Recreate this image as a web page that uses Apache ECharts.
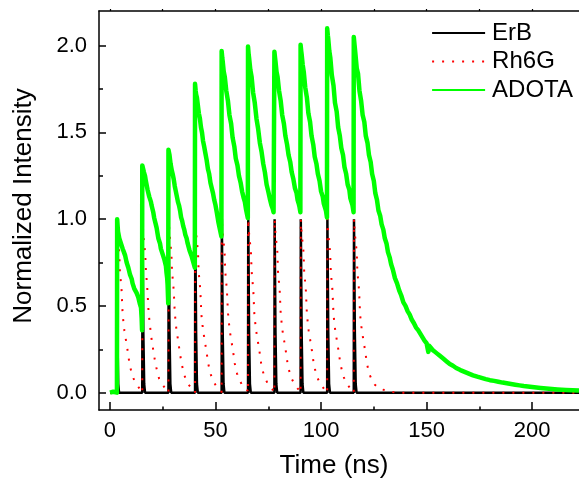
<!DOCTYPE html>
<html>
<head>
<meta charset="utf-8">
<script src="https://cdn.jsdelivr.net/npm/echarts@6/dist/echarts.min.js"></script>
<style>
html,body{margin:0;padding:0;background:#fff;}
#chart{width:579px;height:480px;}
</style>
</head>
<body>
<div id="chart"></div>
<script>
// ---- data ----
const seriesNames = ['ErB', 'Rh6G', 'ADOTA'];
const xMajorTicks = [0, 50, 100, 150, 200];
const xMinorTicks = [25, 75, 125, 175];
const xTopTicks = [0, 25, 50, 75, 100, 125, 150, 175, 200];
const yMajorTicks = [0, 0.5, 1.0, 1.5, 2.0];
const yMinorTicks = [0.25, 0.75, 1.25, 1.75];
const xTitle = 'Time (ns)';
const yTitle = 'Normalized Intensity';

const erb = [
  [0,0],
  [3.0,0],[3.1,1.0],[3.5,0.35],[3.9,0.05],[4.3,0],
  [15.3,0],[15.4,1.0],[15.8,0.35],[16.2,0.05],[16.6,0],
  [27.7,0],[27.8,1.0],[28.2,0.35],[28.6,0.05],[29.0,0],
  [40.3,0],[40.4,1.0],[40.8,0.35],[41.2,0.05],[41.6,0],
  [52.9,0],[53.0,1.0],[53.4,0.35],[53.8,0.05],[54.2,0],
  [65.4,0],[65.5,1.0],[65.9,0.35],[66.3,0.05],[66.7,0],
  [77.9,0],[78.0,1.0],[78.4,0.35],[78.8,0.05],[79.2,0],
  [90.3,0],[90.4,1.0],[90.8,0.35],[91.2,0.05],[91.6,0],
  [102.9,0],[103.0,1.0],[103.4,0.35],[103.8,0.05],[104.2,0],
  [115.5,0],[115.6,1.0],[116.0,0.35],[116.4,0.05],[116.8,0],
  [222.2,0]
];

const rh6g = [
  [0,0],
  [3.0,0],[3.1,1.0],[3.5,0.92],[4.4,0.81],[4.7,0.70],[5.5,0.59],[6.0,0.45],[6.8,0.36],[7.6,0.30],[8.4,0.24],[9.2,0.17],[10.3,0.11],[11.0,0.085],[12.6,0.046],[14.2,0.021],[15.2,0.012],
  [15.3,0],[15.4,1.0],[15.8,0.91],[16.7,0.80],[17.0,0.71],[17.8,0.58],[18.3,0.46],[19.1,0.37],[19.9,0.29],[20.7,0.23],[21.5,0.17],[22.6,0.11],[23.3,0.08],[24.9,0.045],[26.5,0.02],[27.5,0.012],
  [27.7,0],[27.8,1.0],[28.2,0.92],[29.1,0.80],[29.4,0.70],[30.2,0.59],[30.7,0.46],[31.5,0.36],[32.3,0.30],[33.1,0.23],[33.9,0.17],[35.0,0.11],[35.7,0.085],[37.3,0.045],[38.9,0.022],[40.1,0.012],
  [40.3,0],[40.4,1.0],[40.8,0.92],[41.7,0.81],[42.0,0.70],[42.8,0.59],[43.3,0.45],[44.1,0.36],[44.9,0.30],[45.7,0.24],[46.5,0.17],[47.6,0.11],[48.3,0.085],[49.9,0.046],[51.5,0.021],[52.7,0.012],
  [52.9,0],[53.0,1.0],[53.4,0.92],[54.3,0.81],[54.6,0.70],[55.4,0.59],[55.9,0.46],[56.7,0.36],[57.5,0.30],[58.3,0.24],[59.1,0.17],[60.2,0.11],[60.9,0.085],[62.5,0.046],[64.1,0.021],[65.2,0.012],
  [65.4,0],[65.5,1.0],[65.9,0.92],[66.8,0.81],[67.1,0.70],[67.9,0.59],[68.4,0.45],[69.2,0.36],[70.0,0.30],[70.8,0.24],[71.6,0.17],[72.7,0.11],[73.4,0.085],[75.0,0.046],[76.6,0.021],[77.7,0.012],
  [77.9,0],[78.0,1.0],[78.4,0.92],[79.3,0.81],[79.6,0.70],[80.4,0.59],[80.9,0.45],[81.7,0.36],[82.5,0.30],[83.3,0.24],[84.1,0.17],[85.2,0.11],[85.9,0.085],[87.5,0.046],[89.1,0.021],[90.1,0.012],
  [90.3,0],[90.4,1.0],[90.8,0.92],[91.7,0.81],[92.0,0.70],[92.8,0.59],[93.3,0.45],[94.1,0.36],[94.9,0.30],[95.7,0.24],[96.5,0.17],[97.6,0.11],[98.3,0.085],[99.9,0.046],[101.5,0.021],[102.7,0.012],
  [102.9,0],[103.0,1.0],[103.4,0.92],[104.3,0.81],[104.6,0.70],[105.4,0.59],[105.9,0.45],[106.7,0.36],[107.5,0.30],[108.3,0.24],[109.1,0.17],[110.2,0.11],[110.9,0.085],[112.5,0.046],[114.1,0.021],[115.3,0.012],
  [115.5,0],[115.6,1.0],[116.0,0.92],[116.9,0.81],[117.2,0.70],[118.0,0.59],[118.5,0.45],[119.3,0.36],[120.1,0.30],[120.9,0.24],[121.7,0.17],[122.8,0.11],[124.0,0.075],[125.5,0.046],[127.9,0.021],[131.1,0.012],[134.0,0.003],[136.0,0],
  [222.2,0]
];

const adota = [
  [0,0.0],[1.5,0.005],[3.3,0.0],
  [3.4,1.0],[3.8,0.93],[4.4,0.89],[4.8,0.90],[5.2,0.86],[5.6,0.87],[6.0,0.83],[6.6,0.81],[7.2,0.79],[7.6,0.78],[7.9,0.75],[8.3,0.74],[8.7,0.72],[9.1,0.71],[9.5,0.68],[10.3,0.655],[10.7,0.63],[11.1,0.62],[11.5,0.60],[11.9,0.59],[12.6,0.575],[13.0,0.57],[13.4,0.55],[13.8,0.54],[14.2,0.51],[14.7,0.49],[15.0,0.43],[15.2,0.36],
  [15.3,1.31],[15.7,1.29],[16.1,1.27],[16.6,1.25],[17.0,1.22],[17.4,1.21],[17.8,1.17],[18.2,1.16],[18.6,1.13],[19.0,1.12],[19.4,1.10],[19.7,1.08],[20.1,1.06],[20.5,1.04],[20.9,1.01],[21.3,0.99],[21.7,0.97],[22.1,0.95],[22.5,0.92],[22.9,0.89],[23.3,0.88],[23.7,0.86],[24.1,0.83],[24.5,0.82],[24.9,0.80],[25.3,0.79],[25.7,0.77],[26.1,0.76],[26.5,0.73],[26.8,0.69],[27.1,0.66],[27.3,0.62],[27.6,0.515],
  [27.7,1.40],[28.2,1.37],[28.7,1.32],[29.3,1.28],[29.7,1.26],[30.2,1.23],[30.7,1.19],[31.2,1.16],[31.7,1.13],[32.2,1.10],[32.7,1.08],[33.2,1.05],[33.7,1.01],[34.2,0.99],[34.7,0.96],[35.2,0.94],[35.7,0.91],[36.3,0.89],[36.8,0.86],[37.3,0.85],[37.7,0.82],[38.2,0.81],[38.6,0.79],[39.0,0.78],[39.3,0.76],[39.6,0.75],[39.9,0.77],[40.2,0.72],
  [40.3,1.78],[40.6,1.74],[40.8,1.72],[41.2,1.70],[41.6,1.66],[42.1,1.61],[42.6,1.58],[43.1,1.53],[43.6,1.50],[44.1,1.45],[44.6,1.42],[45.2,1.38],[45.8,1.34],[46.4,1.29],[47.0,1.26],[47.6,1.21],[48.2,1.18],[48.8,1.15],[49.4,1.11],[50.0,1.08],[50.6,1.04],[51.0,1.01],[51.4,0.98],[51.8,0.97],[52.1,0.94],[52.5,0.93],[52.8,0.90],
  [52.9,1.97],[53.2,1.93],[53.4,1.91],[53.9,1.85],[54.4,1.82],[55.1,1.74],[55.9,1.68],[56.6,1.60],[57.4,1.55],[58.1,1.47],[58.9,1.42],[59.6,1.35],[60.4,1.31],[61.1,1.25],[61.9,1.21],[62.6,1.16],[63.4,1.12],[63.9,1.10],[64.4,1.06],[64.9,1.05],[65.3,1.006],
  [65.4,1.995],[65.7,1.95],[65.9,1.93],[66.5,1.86],[67.1,1.82],[67.8,1.73],[68.6,1.67],[69.4,1.58],[70.2,1.52],[71.0,1.44],[71.8,1.39],[72.6,1.32],[73.4,1.27],[74.2,1.20],[75.0,1.16],[75.7,1.12],[76.5,1.08],[77.1,1.06],[77.5,1.04],[77.8,1.03],
  [77.9,1.965],[78.2,1.93],[78.4,1.91],[78.9,1.85],[79.4,1.82],[80.1,1.74],[80.9,1.68],[81.6,1.60],[82.4,1.55],[83.1,1.48],[83.9,1.43],[84.6,1.37],[85.4,1.33],[86.1,1.27],[86.9,1.23],[87.6,1.18],[88.4,1.15],[88.9,1.11],[89.4,1.09],[89.8,1.07],[90.2,1.04],
  [90.3,2.005],[90.6,1.97],[90.8,1.95],[91.3,1.89],[91.8,1.85],[92.5,1.76],[93.3,1.70],[94.0,1.61],[94.8,1.56],[95.5,1.48],[96.3,1.43],[97.0,1.36],[97.8,1.32],[98.5,1.26],[99.3,1.22],[100.0,1.16],[100.8,1.13],[101.3,1.09],[101.8,1.07],[102.3,1.05],[102.8,1.01],
  [102.9,2.10],[103.2,2.06],[103.4,2.04],[103.9,1.97],[104.4,1.93],[105.1,1.83],[105.9,1.77],[106.6,1.67],[107.4,1.62],[108.1,1.53],[108.9,1.48],[109.6,1.41],[110.4,1.37],[111.1,1.30],[111.9,1.26],[112.6,1.20],[113.4,1.17],[113.9,1.12],[114.4,1.10],[114.9,1.08],[115.4,1.04],
  [115.5,2.05],[115.9,2.00],[116.3,1.95],[116.9,1.87],[117.5,1.84],[118.2,1.74],[119.0,1.68],[119.7,1.60],[120.5,1.56],[121.2,1.48],[122.0,1.44],[122.7,1.37],[123.5,1.33],[124.2,1.26],[125.0,1.22],[125.7,1.15],[126.5,1.11],[127.2,1.05],[128.0,1.02],[128.7,0.97],[129.5,0.94],[130.2,0.89],[131.0,0.86],[131.7,0.81],[132.5,0.78],[133.2,0.74],[134.0,0.71],[135.0,0.66],[136.0,0.63],[137.0,0.59],[138.0,0.56],[139.0,0.52],[140.0,0.50],[141.0,0.47],[142.0,0.45],[143.0,0.42],[144.0,0.40],[145.0,0.375],[146.0,0.36],[147.0,0.34],[148.0,0.32],[149.0,0.30],[150.0,0.285],[150.5,0.275],[150.8,0.235],[151.2,0.27],[152.0,0.26],[153.0,0.245],[154.0,0.235],[155.0,0.225],[156.0,0.215],[157.0,0.205],[158.0,0.195],[159.5,0.18],[161.0,0.165],[162.5,0.155],[164.0,0.142],[166.0,0.13],[168.0,0.12],[170.0,0.11],[172.0,0.10],[174.0,0.092],[176.0,0.085],[178.0,0.078],[180.0,0.072],[182.0,0.068],[184.0,0.063],[186.0,0.058],[188.0,0.054],[190.0,0.05],[192.0,0.046],[194.0,0.042],[196.0,0.038],[198.0,0.035],[200.0,0.032],[204.0,0.027],[208.0,0.022],[212.0,0.018],[216.0,0.015],[222.2,0.012]
];

// ---- chart ----
const X_MIN = -5.2, X_MAX = 222.2, Y_MIN = -0.1, Y_MAX = 2.2;
const FONT = 'Liberation Sans, Arial, Helvetica, sans-serif';
const chart = echarts.init(document.getElementById('chart'), null, {renderer: 'canvas'});

const axisLineStyle = {color: '#000', width: 1.5};
const baseX = {type: 'value', min: X_MIN, max: X_MAX, gridIndex: 0, splitLine: {show: false}};
const baseY = {type: 'value', min: Y_MIN, max: Y_MAX, gridIndex: 0, splitLine: {show: false}};

chart.setOption({
  animation: false,
  backgroundColor: '#fff',
  grid: {left: 99, top: 11, right: 0, bottom: 70},
  xAxis: [
    Object.assign({}, baseX, {
      position: 'bottom',
      axisLine: {show: true, onZero: false, lineStyle: axisLineStyle},
      axisTick: {show: true, inside: true, length: 8, customValues: xMajorTicks, lineStyle: {color: '#000', width: 1.5}},
      axisLabel: {show: true, customValues: xMajorTicks, margin: 10, color: '#000', fontSize: 22, fontFamily: FONT}
    }),
    Object.assign({}, baseX, {
      position: 'bottom',
      axisLine: {show: false, onZero: false},
      axisTick: {show: true, inside: true, length: 3.5, customValues: xMinorTicks, lineStyle: {color: '#000', width: 1.5}},
      axisLabel: {show: false}
    }),
    Object.assign({}, baseX, {
      position: 'top',
      axisLine: {show: true, onZero: false, lineStyle: axisLineStyle},
      axisTick: {show: true, inside: false, length: 2, customValues: xTopTicks, lineStyle: {color: '#000', width: 1.2}},
      axisLabel: {show: false}
    })
  ],
  yAxis: [
    Object.assign({}, baseY, {
      position: 'left',
      axisLine: {show: true, onZero: false, lineStyle: axisLineStyle},
      axisTick: {show: true, inside: true, length: 7, customValues: yMajorTicks, lineStyle: {color: '#000', width: 1.5}},
      axisLabel: {show: true, customValues: yMajorTicks, margin: 12, color: '#000', fontSize: 22, fontFamily: FONT,
        formatter: v => Number(v).toFixed(1)}
    }),
    Object.assign({}, baseY, {
      position: 'left',
      axisLine: {show: false, onZero: false},
      axisTick: {show: true, inside: true, length: 4, customValues: yMinorTicks, lineStyle: {color: '#000', width: 1.5}},
      axisLabel: {show: false}
    })
  ],
  legend: {
    type: 'plain',
    show: true,
    orient: 'vertical',
    left: 431,
    top: 21,
    bottom: 'auto',
    right: 'auto',
    padding: 0,
    itemWidth: 53,
    itemHeight: 14,
    itemGap: 4.5,
    selectedMode: false,
    itemStyle: {opacity: 0},
    lineStyle: {width: 2.2},
    textStyle: {color: '#000', fontSize: 24, fontFamily: FONT, lineHeight: 24, padding: [0, 0, 0, 2]},
    data: seriesNames
  },
  series: [
    {
      name: seriesNames[0], type: 'line', data: erb, showSymbol: false, symbol: 'none',
      xAxisIndex: 0, yAxisIndex: 0,
      lineStyle: {color: '#000', width: 2.5}, itemStyle: {color: '#000'}, z: 2
    },
    {
      name: seriesNames[1], type: 'line', data: rh6g, showSymbol: false, symbol: 'none',
      xAxisIndex: 0, yAxisIndex: 0,
      lineStyle: {color: '#ff0000', width: 2, type: [2, 8], cap: 'butt'}, itemStyle: {color: '#ff0000'}, z: 3
    },
    {
      name: seriesNames[2], type: 'line', data: adota, showSymbol: false, symbol: 'none',
      xAxisIndex: 0, yAxisIndex: 0,
      lineStyle: {color: '#00ff00', width: 4.5, join: 'round'}, itemStyle: {color: '#00ff00'}, z: 4
    }
  ],
  graphic: [
    {type: 'text', x: 334, y: 466, style: {text: xTitle, fontSize: 26, fontFamily: FONT, fill: '#000', align: 'center', verticalAlign: 'middle'}},
    {type: 'text', x: 23.6, y: 206, rotation: Math.PI / 2, style: {text: yTitle, fontSize: 26, fontFamily: FONT, fill: '#000', align: 'center', verticalAlign: 'middle'}}
  ]
});
</script>
</body>
</html>
